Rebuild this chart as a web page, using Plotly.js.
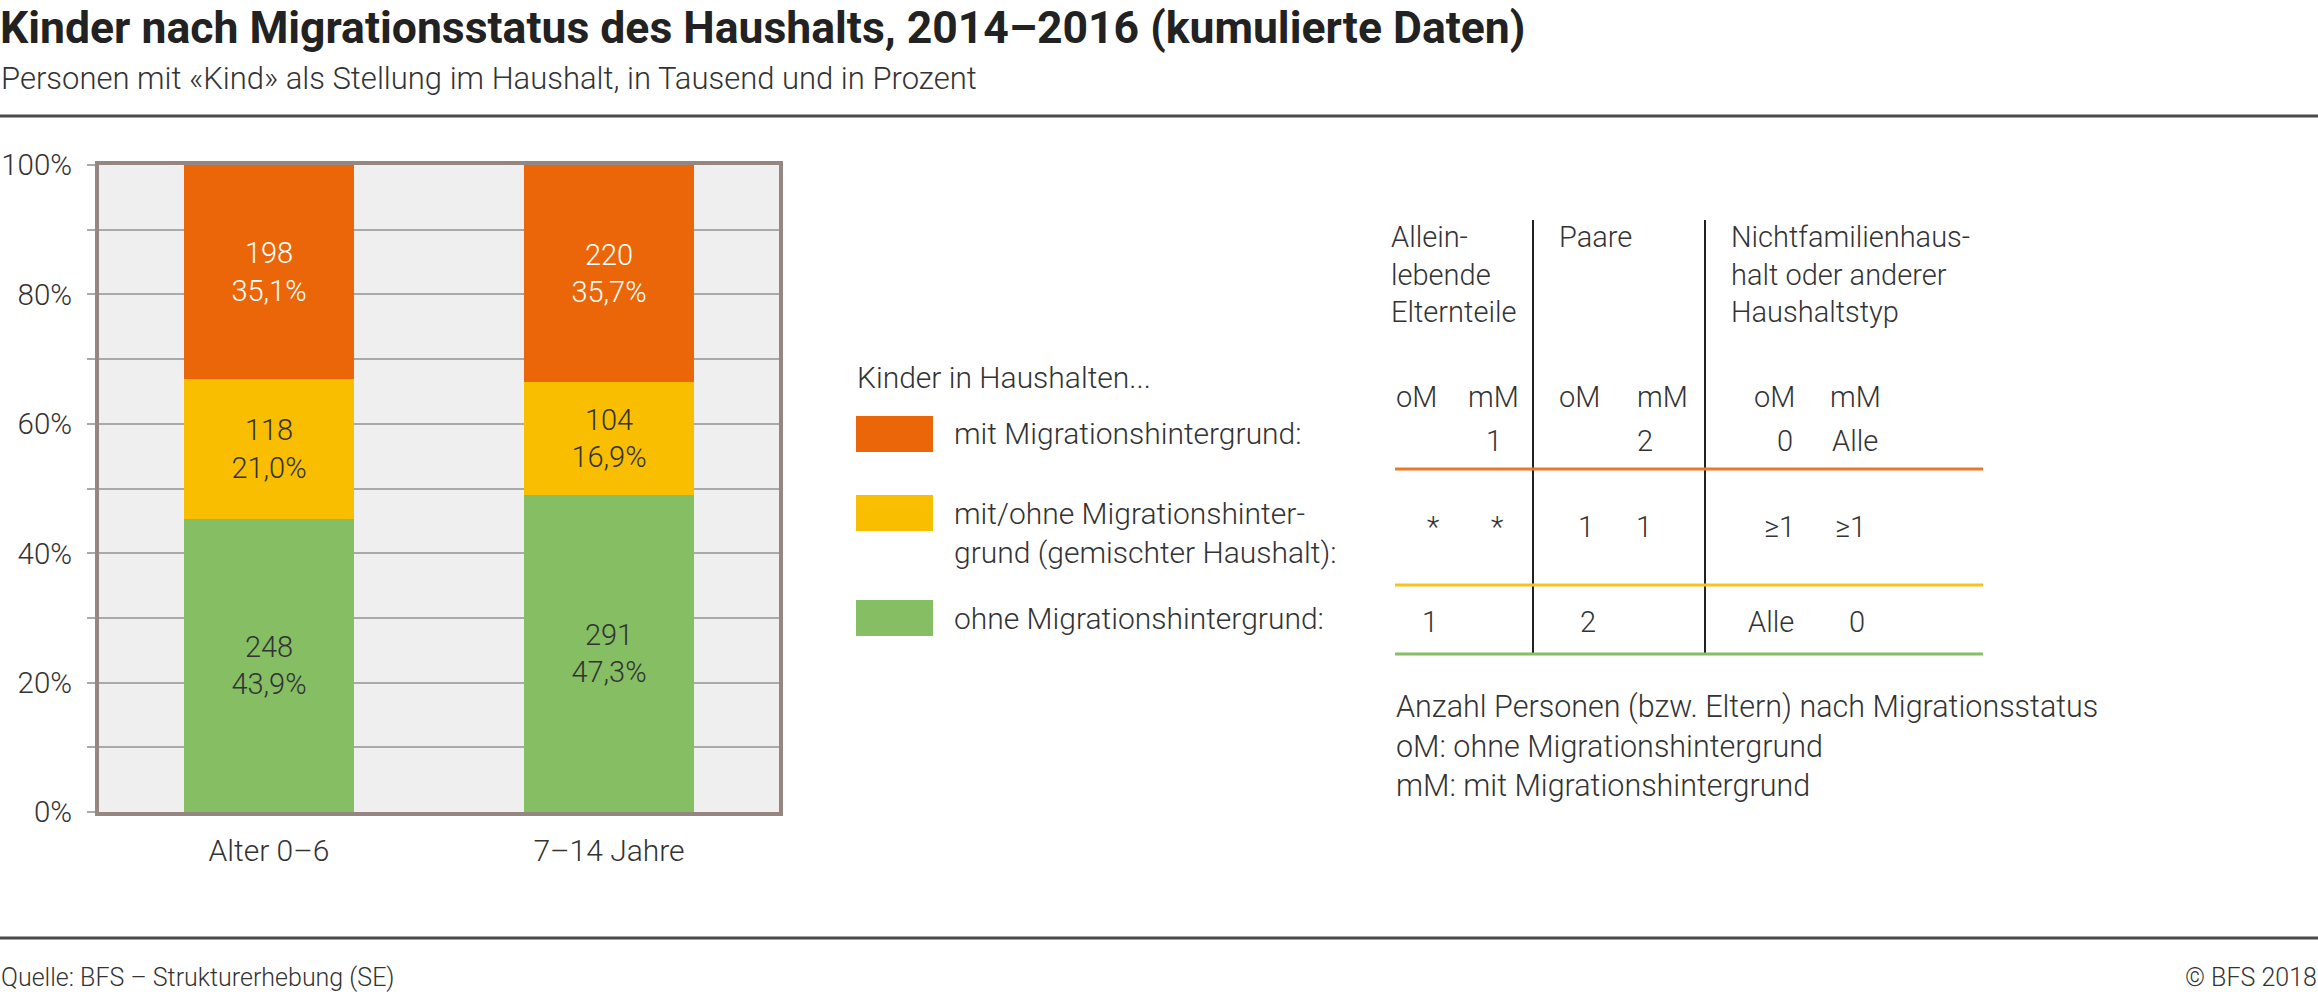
<!DOCTYPE html>
<html>
<head>
<meta charset="utf-8">
<script src="https://cdn.plot.ly/plotly-3.0.1.min.js"></script>
<style>
  html, body { margin: 0; padding: 0; background: #ffffff; }
  #chart { width: 2318px; height: 994px; }
</style>
</head>
<body>
<div id="chart"></div>
<script>
// ---------- DATA ----------
const categories = ['Alter 0–6', '7–14 Jahre'];

const seriesNames = [
  'ohne Migrationshintergrund:',
  'mit/ohne Migrationshinter-<br>grund (gemischter Haushalt):',
  'mit Migrationshintergrund:'
];
// bar heights as drawn in the picture (share of 100%)
const ohneBar = [45.3, 49.0];
const gemischtBar = [21.6, 17.5];
const mitBar = [33.1, 33.5];
// labels printed in the bars
const ohnePct = [43.9, 47.3];
const gemischtPct = [21.0, 16.9];
const mitPct = [35.1, 35.7];
const ohneAbs = [248, 291];
const gemischtAbs = [118, 104];
const mitAbs = [198, 220];

const yTickValues = [0, 10, 20, 30, 40, 50, 60, 70, 80, 90, 100];
const yTickLabels = ['0%', '', '20%', '', '40%', '', '60%', '', '80%', '', '100%'];

const titleText = 'Kinder nach Migrationsstatus des Haushalts, 2014–2016 (kumulierte Daten)';
const subtitleText = 'Personen mit «Kind» als Stellung im Haushalt, in Tausend und in Prozent';
const legendTitle = 'Kinder in Haushalten...';
const sourceText = 'Quelle: BFS – Strukturerhebung (SE)';
const copyrightText = '© BFS 2018';

const tableGroups = ['Allein-<br>lebende<br>Elternteile', 'Paare', 'Nichtfamilienhaus-<br>halt oder anderer<br>Haushaltstyp'];
const tableSub = ['oM', 'mM', 'oM', 'mM', 'oM', 'mM'];
const rowMit = ['', '1', '', '2', '0', 'Alle'];
const rowGemischt = ['*', '*', '1', '1', '≥1', '≥1'];
const rowOhne = ['1', '', '2', '', 'Alle', '0'];
const tableNotes = [
  'Anzahl Personen (bzw. Eltern) nach Migrationsstatus',
  'oM: ohne Migrationshintergrund',
  'mM: mit Migrationshintergrund'
];

// ---------- STYLE / LAYOUT ----------
const W = 2318, H = 994;
const L = 99, R = 779, T = 165, B = 812;
const fx = p => (p - L) / (R - L);
const fy = p => (B - p) / (B - T);

const cOrange = '#EB6608', cYellow = '#F9BE00', cGreen = '#86BE64';
const txt = '#333333';
const FONT = 'Roboto, "Open Sans", sans-serif';
const light = (size, color) => ({ family: FONT, size: size, color: color || txt, weight: 300 });

function fmtPct(v) { return v.toFixed(1).replace('.', ',') + '%'; }

function barTrace(name, y, abs, pct, color, textColor) {
  return {
    type: 'bar', name: name, x: categories, y: y,
    text: abs.map((a, i) => a + '<br>' + fmtPct(pct[i])),
    texttemplate: '%{text}',
    marker: { color: color, line: { width: 0 } },
    textposition: 'inside', insidetextanchor: 'middle', textangle: 0,
    constraintext: 'none',
    insidetextfont: light(29, textColor),
    hoverinfo: 'skip', showlegend: false
  };
}

const data = [
  barTrace(seriesNames[0], ohneBar, ohneAbs, ohnePct, cGreen, txt),
  barTrace(seriesNames[1], gemischtBar, gemischtAbs, gemischtPct, cYellow, txt),
  barTrace(seriesNames[2], mitBar, mitAbs, mitPct, cOrange, '#ffffff')
];

const annotations = [];
const shapes = [];
function ann(text, xpx, ypx, xanchor, yanchor, font, align) {
  annotations.push({
    text: text, xref: 'paper', yref: 'paper', x: fx(xpx), y: fy(ypx),
    xanchor: xanchor, yanchor: yanchor, showarrow: false, font: font,
    align: align || 'left', borderpad: 0
  });
}
function hline(x0, x1, ypx, color, width) {
  shapes.push({ type: 'line', xref: 'paper', yref: 'paper', x0: fx(x0), x1: fx(x1), y0: fy(ypx), y1: fy(ypx),
    line: { color: color, width: width }, layer: 'above' });
}
function vline(xpx, y0, y1, color, width) {
  shapes.push({ type: 'line', xref: 'paper', yref: 'paper', x0: fx(xpx), x1: fx(xpx), y0: fy(y0), y1: fy(y1),
    line: { color: color, width: width }, layer: 'above' });
}
function rect(x0, x1, y0, y1, color) {
  shapes.push({ type: 'rect', xref: 'paper', yref: 'paper', x0: fx(x0), x1: fx(x1), y0: fy(y1), y1: fy(y0),
    fillcolor: color, line: { width: 0 }, layer: 'above' });
}

// header texts
ann(subtitleText, 0, 78, 'left', 'middle', light(31));
hline(0, W, 116, '#4a4a4a', 3);
hline(0, W, 938, '#4a4a4a', 3);
ann(sourceText, 0, 977, 'left', 'middle', light(25));
ann(copyrightText, W, 977, 'right', 'middle', light(25));

// custom legend
ann(legendTitle, 856, 377, 'left', 'middle', light(30));
const legColors = [cOrange, cYellow, cGreen];
const legNames = [seriesNames[2], seriesNames[1], seriesNames[0]];
const legRowY = [434, 513, 618];
legNames.forEach((n, i) => {
  rect(856, 933, legRowY[i] - 18, legRowY[i] + 18, legColors[i]);
  ann(n, 953, legRowY[i] + (i === 1 ? 20 : 0), 'left', 'middle', light(30));
});

// table
const groupX = [1390, 1558, 1730];
tableGroups.forEach((g, i) => ann(g, groupX[i], 219, 'left', 'top', light(29)));
vline(1533, 220, 655, '#222222', 2);
vline(1705, 220, 655, '#222222', 2);
const subX = [1416, 1494, 1580, 1663, 1774, 1855];
tableSub.forEach((s, i) => ann(s, subX[i], 397, 'center', 'middle', light(29)));
const row1X = [1416, 1494, 1580, 1645, 1785, 1855];
const row2X = [1433, 1497, 1586, 1644, 1779, 1850];
const row3X = [1430, 1494, 1588, 1663, 1771, 1857];
rowMit.forEach((v, i) => { if (v) ann(v, row1X[i], 441, 'center', 'middle', light(29)); });
rowGemischt.forEach((v, i) => { if (v) ann(v, row2X[i], 527, 'center', 'middle', light(29)); });
rowOhne.forEach((v, i) => { if (v) ann(v, row3X[i], 622, 'center', 'middle', light(29)); });
hline(1395, 1983, 469, '#EE7722', 3);
hline(1395, 1983, 585, '#F9C21A', 3);
hline(1395, 1983, 654, '#86C064', 3);
ann(tableNotes.join('<br>'), 1395, 746, 'left', 'middle', light(30.5));

const layout = {
  width: W, height: H, autosize: false,
  margin: { l: L, r: W - R, t: T, b: H - B, pad: 0 },
  paper_bgcolor: '#ffffff', plot_bgcolor: '#efefef',
  barmode: 'stack', bargap: 0.5,
  showlegend: false,
  font: light(29),
  title: {
    text: titleText, xref: 'container', yref: 'container', x: 0, xanchor: 'left',
    y: 1 - 27 / H, yanchor: 'middle', pad: { l: 0, t: 0, b: 0, r: 0 },
    font: { family: FONT, size: 44.5, color: '#222222', weight: 700 }
  },
  xaxis: {
    type: 'category', showgrid: false, zeroline: false,
    showline: true, mirror: true, linecolor: '#958682', linewidth: 4,
    ticks: '', tickfont: light(30), ticklabelstandoff: 9, fixedrange: true
  },
  yaxis: {
    range: [0, 100], tickmode: 'array', tickvals: yTickValues, ticktext: yTickLabels,
    showgrid: true, gridcolor: '#a9a9a9', gridwidth: 2, zeroline: false,
    showline: true, mirror: true, linecolor: '#958682', linewidth: 4,
    ticks: 'outside', ticklen: 8, tickwidth: 2, tickcolor: '#a9a9a9',
    tickfont: light(29.5), ticklabelstandoff: 9, fixedrange: true
  },
  annotations: annotations,
  shapes: shapes
};

Plotly.newPlot('chart', data, layout, { displayModeBar: false, staticPlot: true });
</script>
</body>
</html>
